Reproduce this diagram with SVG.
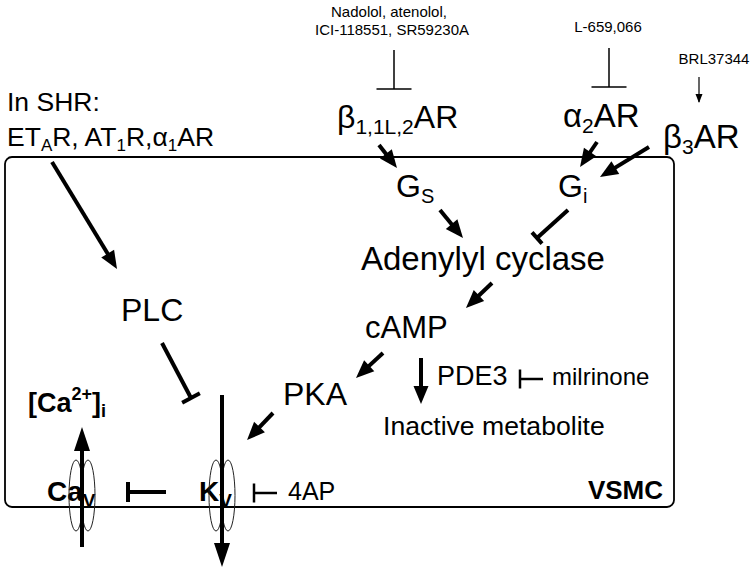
<svg xmlns="http://www.w3.org/2000/svg" width="756" height="573" viewBox="0 0 756 573">
<style>
.t{font-family:"Liberation Sans",Arial,sans-serif;fill:#000}
.b{font-weight:bold}
.sm{font-size:15px}
.main{font-size:32px}
.mid{font-size:26.5px}
.ln{stroke:#000;fill:none}
.thick{stroke-width:4}
.thin{stroke-width:1.5}
.chan{stroke:#222;stroke-width:1;fill:none}
</style>
<defs>
<marker id="ah" markerUnits="userSpaceOnUse" markerWidth="18" markerHeight="15" refX="12" refY="7.5" orient="auto" overflow="visible"><path d="M0,0 L18,7.5 L0,15 z" fill="#000"/></marker>
<marker id="bh" markerUnits="userSpaceOnUse" markerWidth="24" markerHeight="16" refX="16" refY="8" orient="auto" overflow="visible"><path d="M0,0 L24,8 L0,16 z" fill="#000"/></marker>
<marker id="sh" markerUnits="userSpaceOnUse" markerWidth="9" markerHeight="7" refX="8" refY="3.5" orient="auto" overflow="visible"><path d="M0,0 L9,3.5 L0,7 z" fill="#000"/></marker>
<marker id="barT" markerUnits="userSpaceOnUse" markerWidth="6" markerHeight="22" refX="3" refY="11" orient="auto" overflow="visible"><path d="M3,1 V21" stroke="#000" stroke-width="4"/></marker>
<marker id="barS" markerUnits="userSpaceOnUse" markerWidth="6" markerHeight="16" refX="3" refY="8" orient="auto" overflow="visible"><path d="M3,0.5 V15.5" stroke="#000" stroke-width="4"/></marker>
<marker id="barD" markerUnits="userSpaceOnUse" markerWidth="4" markerHeight="36" refX="2" refY="18" orient="auto" overflow="visible"><path d="M2,0.5 V35.5" stroke="#000" stroke-width="1.5"/></marker>
<marker id="barM" markerUnits="userSpaceOnUse" markerWidth="4" markerHeight="20" refX="2" refY="10" orient="auto" overflow="visible"><path d="M2,0.5 V19.5" stroke="#000" stroke-width="2.5"/></marker>
</defs>

<g id="cell">
<rect x="5" y="157" width="669" height="350" rx="7" ry="7" fill="none" stroke="#000" stroke-width="1.8"/>
<text class="t b" x="663" y="499" font-size="26" text-anchor="end">VSMC</text>
</g>

<g id="drugs">
<text class="t sm" x="389" y="17" text-anchor="middle">Nadolol, atenolol,</text>
<text class="t sm" x="392" y="35" text-anchor="middle">ICI-118551, SR59230A</text>
<text class="t sm" x="608" y="32" text-anchor="middle">L-659,066</text>
<text class="t sm" x="714" y="64" text-anchor="middle">BRL37344</text>
<text class="t" x="552" y="385" font-size="24">milrinone</text>
<text class="t" x="288" y="500" font-size="25">4AP</text>
</g>

<g id="shr">
<text class="t mid" x="7" y="111">In SHR:</text>
<text class="t mid" x="7" y="146">ET<tspan font-size="17" dy="5">A</tspan><tspan dy="-5">R, AT</tspan><tspan font-size="17" dy="5">1</tspan><tspan dy="-5">R,α</tspan><tspan font-size="17" dy="5">1</tspan><tspan dy="-5">AR</tspan></text>
</g>

<g id="b1ar"><text class="t main" x="337" y="128">β<tspan font-size="21" dy="6">1,1L,2</tspan><tspan dy="-6">AR</tspan></text></g>
<g id="a2ar"><text class="t" x="563" y="127" font-size="33">α<tspan font-size="21" dy="6">2</tspan><tspan dy="-6">AR</tspan></text></g>
<g id="b3ar"><text class="t" x="663" y="148" font-size="33">β<tspan font-size="21" dy="6">3</tspan><tspan dy="-6">AR</tspan></text></g>
<g id="gs"><text class="t main" x="396" y="197">G<tspan font-size="20" dy="6">S</tspan></text></g>
<g id="gi"><text class="t main" x="558" y="197">G<tspan font-size="20" dy="6">i</tspan></text></g>
<g id="ac"><text class="t" x="361" y="270" font-size="33">Adenylyl cyclase</text></g>
<g id="camp"><text class="t" x="365" y="338" font-size="31">cAMP</text></g>
<g id="plc"><text class="t main" x="121" y="321">PLC</text></g>
<g id="pka"><text class="t main" x="283" y="405">PKA</text></g>
<g id="pde3"><text class="t" x="437" y="385" font-size="27">PDE3</text></g>
<g id="inact"><text class="t" x="383" y="435" font-size="26.6">Inactive metabolite</text></g>
<g id="cai"><text class="t b" x="28" y="412" font-size="27">[Ca<tspan font-size="18" dy="-12">2+</tspan><tspan dy="12">]</tspan><tspan font-size="18" dy="5">i</tspan></text></g>

<g id="cav">
<text class="t b" x="47" y="501" font-size="28">Ca<tspan font-size="19" dy="6">V</tspan></text>
<ellipse class="chan" cx="76" cy="495.5" rx="7" ry="35.5"/>
<ellipse class="chan" cx="88" cy="495.5" rx="7" ry="35.5"/>
</g>
<g id="kv">
<text class="t b" x="199" y="501" font-size="28">K<tspan font-size="19" dy="6">V</tspan></text>
<ellipse class="chan" cx="216" cy="495.5" rx="7" ry="35.5"/>
<ellipse class="chan" cx="228" cy="495.5" rx="7" ry="35.5"/>
</g>

<g id="connectors">
<path class="ln thick" d="M52,162 L113.9,263.9" marker-end="url(#ah)"/>
<path class="ln thick" d="M379,145 L393.3,163.3" marker-end="url(#ah)"/>
<path class="ln thick" d="M597,142 L583.4,162" marker-end="url(#ah)"/>
<path class="ln thick" d="M649,147 L605.1,173.9" marker-end="url(#ah)"/>
<path class="ln thick" d="M440,210 L459.2,233.4" marker-end="url(#ah)"/>
<path class="ln thick" d="M492,283 L470.3,303.8" marker-end="url(#ah)"/>
<path class="ln thick" d="M383,353 L360.4,373.9" marker-end="url(#ah)"/>
<path class="ln thick" d="M421,358 L421,398" marker-end="url(#ah)"/>
<path class="ln thick" d="M273,413 L251.2,435.7" marker-end="url(#ah)"/>
<path class="ln thick" d="M222,395 L222,559" marker-end="url(#bh)"/>
<path class="ln thick" d="M82,547 L82,435" marker-end="url(#bh)"/>
<path class="ln thick" d="M568,210 L537,238" marker-end="url(#barS)"/>
<path class="ln thick" d="M162,343 L191,398" marker-end="url(#barT)"/>
<path class="ln thick" d="M166,492 L128,492" marker-end="url(#barT)"/>
<path class="ln thin" d="M394,50 L394,89" marker-end="url(#barD)"/>
<path class="ln thin" d="M609,48 L609,87" marker-end="url(#barD)"/>
<path class="ln" stroke-width="2.5" d="M543,379 L520,379" marker-end="url(#barM)"/>
<path class="ln" stroke-width="2.5" d="M277,493 L254,493" marker-end="url(#barM)"/>
<path class="ln" stroke-width="1.2" d="M699,77 L699,102" marker-end="url(#sh)"/>
</g>
</svg>
